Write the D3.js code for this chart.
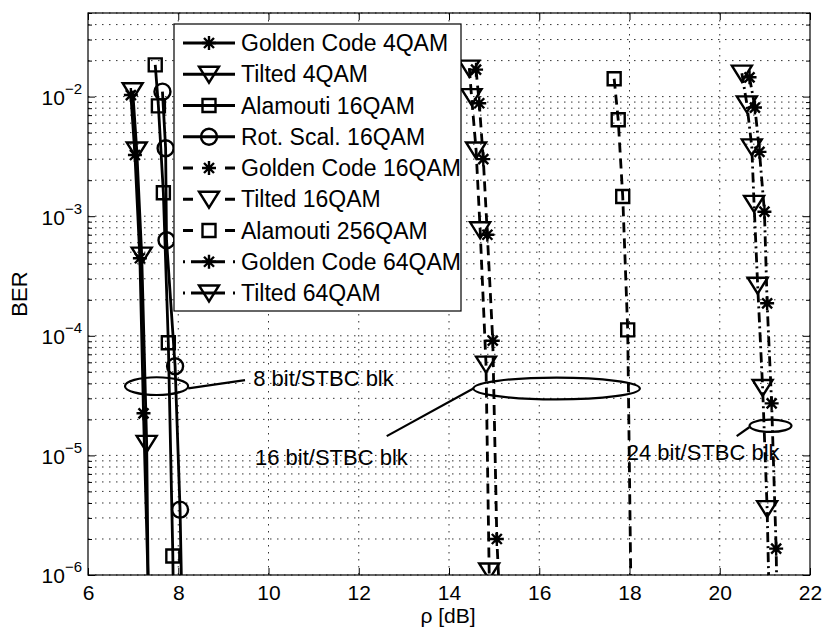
<!DOCTYPE html>
<meta charset="utf-8">

<head>
    <style>
        body { margin: 0; background: #fff; }
        text { font-family: "Liberation Sans", Arial, Helvetica, sans-serif; }
    </style>
    <script src="https://d3js.org/d3.v7.min.js"></script>
</head>

<body>
    <div id="chart"></div>

    <script>
        // BER curves: x = rho [dB], y = BER (last point of each lies below the axis)
        const gc4X = [6.95, 7.04, 7.15, 7.23, 7.40];
        const gc4Y = [1.03e-2, 3.25e-3, 4.45e-4, 2.25e-5, 1e-7];
        const ti4X = [6.99, 7.08, 7.19, 7.30, 7.36];
        const ti4Y = [1.12e-2, 3.58e-3, 4.73e-4, 1.26e-5, 1e-7];
        const al16X = [7.49, 7.56, 7.67, 7.78, 7.88, 7.92];
        const al16Y = [1.84e-2, 8.36e-3, 1.57e-3, 8.75e-5, 1.44e-6, 1e-7];
        const rs16X = [7.65, 7.72, 7.74, 7.93, 8.04, 8.12];
        const rs16Y = [1.10e-2, 3.70e-3, 6.30e-4, 5.57e-5, 3.52e-6, 1e-7];
        const gc16X = [14.60, 14.67, 14.76, 14.85, 14.97, 15.06, 15.22];
        const gc16Y = [1.68e-2, 8.8e-3, 3.0e-3, 7.0e-4, 9.1e-5, 2.0e-6, 1e-7];
        const ti16X = [14.45, 14.50, 14.60, 14.69, 14.82, 14.89, 14.95];
        const ti16Y = [1.73e-2, 1.0e-2, 3.58e-3, 7.7e-4, 5.8e-5, 1.08e-6, 1e-7];
        const al256X = [17.66, 17.75, 17.85, 17.96, 18.06];
        const al256Y = [1.41e-2, 6.4e-3, 1.46e-3, 1.12e-4, 1e-7];
        const gc64X = [20.66, 20.78, 20.88, 20.99, 21.05, 21.15, 21.25, 21.30];
        const gc64Y = [1.45e-2, 8.1e-3, 3.45e-3, 1.09e-3, 1.87e-4, 2.72e-5, 1.66e-6, 1e-7];
        const ti64X = [20.49, 20.60, 20.71, 20.76, 20.84, 20.95, 21.05, 21.14];
        const ti64Y = [1.57e-2, 8.7e-3, 3.8e-3, 1.28e-3, 2.65e-4, 3.7e-5, 3.59e-6, 1e-7];

        const xTicks = [6, 8, 10, 12, 14, 16, 18, 20, 22];
        const yMajor = [1e-6, 1e-5, 1e-4, 1e-3, 1e-2];

        // annotations (data coordinates)
        const ellX = [[6.82, 8.22], [14.54, 18.23], [20.66, 21.59]];
        const ellY = [[3.2e-5, 4.5e-5], [2.94e-5, 4.47e-5], [1.57e-5, 1.99e-5]];
        const ptrX = [[8.22, 9.48], [14.54, 12.62], [20.655, 20.375]];
        const ptrY = [[3.63e-5, 4.26e-5], [3.63e-5, 1.45e-5], [1.72e-5, 1.45e-5]];
        const noteText = ["8 bit/STBC blk", "16 bit/STBC blk", "24 bit/STBC blk"];
        const noteX = [9.66, 9.70, 17.94];
        const noteY = [3.8e-5, 8.3e-6, 9.1e-6];

        const series = [
            { name: "Golden Code 4QAM", x: gc4X, y: gc4Y, marker: "star", style: "solid" },
            { name: "Tilted 4QAM", x: ti4X, y: ti4Y, marker: "tri", style: "solid" },
            { name: "Alamouti 16QAM", x: al16X, y: al16Y, marker: "square", style: "solid" },
            { name: "Rot. Scal. 16QAM", x: rs16X, y: rs16Y, marker: "circle", style: "solid" },
            { name: "Golden Code 16QAM", x: gc16X, y: gc16Y, marker: "star", style: "dash" },
            { name: "Tilted 16QAM", x: ti16X, y: ti16Y, marker: "tri", style: "dash" },
            { name: "Alamouti 256QAM", x: al256X, y: al256Y, marker: "square", style: "dash" },
            { name: "Golden Code 64QAM", x: gc64X, y: gc64Y, marker: "star", style: "dashdot" },
            { name: "Tilted 64QAM", x: ti64X, y: ti64Y, marker: "tri", style: "dashdot" }
        ];

        const markerPath = {
            star: "M-7,0H7M0,-7V7M-5,-5L5,5M-5,5L5,-5",
            tri: "M-10,-7.5L10,-7.5L0,8.5Z",
            square: "M-6.5,-6.5H6.5V6.5H-6.5Z",
            circle: "M8,0A8,8 0 1,1 -8,0A8,8 0 1,1 8,0Z"
        };
        const dashFor = { solid: null, dash: "10,6", dashdot: "10,4,2,4" };
        const legendDash = { solid: null, dash: "10,32", dashdot: "2,6,34,8,2,100" };

        const width = 824, height = 629;
        const pLeft = 88, pTop = 13, pRight = 810, pBottom = 575;
        const font = "'Liberation Sans', Arial, Helvetica, sans-serif";

        const svg = d3.select("#chart")
            .append("svg")
            .attr("width", width)
            .attr("height", height);

        svg.append("rect").attr("width", width).attr("height", height).attr("fill", "#fff");

        const x = d3.scaleLinear().domain([6, 22]).range([pLeft, pRight]);
        const y = d3.scaleLog().domain([1e-6, 5e-2]).range([pBottom, pTop]);

        svg.append("defs").append("clipPath").attr("id", "plot")
            .append("rect")
            .attr("x", pLeft).attr("y", pTop)
            .attr("width", pRight - pLeft).attr("height", pBottom - pTop);

        // dotted grid
        const grid = svg.append("g")
            .attr("stroke", "#333")
            .attr("stroke-width", 1)
            .attr("stroke-dasharray", "1.5,5.5");
        grid.selectAll(".gy")
            .data(y.ticks())
            .join("line")
            .attr("x1", pLeft).attr("x2", pRight)
            .attr("y1", d => y(d)).attr("y2", d => y(d));
        grid.selectAll(".gx")
            .data(xTicks.slice(1, -1))
            .join("line")
            .attr("y1", pTop).attr("y2", pBottom)
            .attr("x1", d => x(d)).attr("x2", d => x(d));

        // axes
        const yMinor = y.ticks().filter(d => !yMajor.some(m => Math.abs(m - d) / m < 1e-6));

        function styleAxis(g) {
            g.attr("font-family", font).attr("font-size", 21);
            g.select(".domain").remove();
        }

        svg.append("g")
            .attr("transform", "translate(0," + pBottom + ")")
            .call(d3.axisBottom(x).tickValues(xTicks).tickSize(-7).tickPadding(10))
            .call(styleAxis);
        svg.append("g")
            .attr("transform", "translate(0," + pTop + ")")
            .call(d3.axisTop(x).tickValues(xTicks).tickSize(-7).tickFormat(""))
            .call(styleAxis);

        const yl = svg.append("g")
            .attr("transform", "translate(" + pLeft + ",0)")
            .call(d3.axisLeft(y).tickValues(yMajor).tickSize(-7).tickPadding(6).tickFormat(""))
            .call(styleAxis);
        yl.selectAll(".tick text")
            .attr("dy", "0.38em")
            .each(function (d) {
                const t = d3.select(this);
                t.append("tspan").text("10");
                t.append("tspan").attr("dy", -11).attr("font-size", 15)
                    .text("\u2212" + Math.round(-Math.log10(d)));
            });
        svg.append("g")
            .attr("transform", "translate(" + pLeft + ",0)")
            .call(d3.axisLeft(y).tickValues(yMinor).tickSize(-4).tickFormat(""))
            .call(styleAxis);
        svg.append("g")
            .attr("transform", "translate(" + pRight + ",0)")
            .call(d3.axisRight(y).tickValues(yMajor).tickSize(-7).tickFormat(""))
            .call(styleAxis);
        svg.append("g")
            .attr("transform", "translate(" + pRight + ",0)")
            .call(d3.axisRight(y).tickValues(yMinor).tickSize(-4).tickFormat(""))
            .call(styleAxis);

        // curves
        const line = d3.line().x(d => x(d[0])).y(d => y(d[1]));
        const plot = svg.append("g").attr("clip-path", "url(#plot)");

        series.forEach(s => {
            const pts = s.x.map((v, i) => [v, s.y[i]]);
            plot.append("path")
                .datum(pts)
                .attr("d", line)
                .attr("fill", "none")
                .attr("stroke", "#000")
                .attr("stroke-width", 2.8)
                .attr("stroke-dasharray", dashFor[s.style]);
            plot.selectAll(null)
                .data(pts)
                .join("path")
                .attr("d", markerPath[s.marker])
                .attr("transform", d => "translate(" + x(d[0]) + "," + y(d[1]) + ")")
                .attr("fill", "none")
                .attr("stroke", "#000")
                .attr("stroke-width", 2.4);
        });

        // plot box
        svg.append("rect")
            .attr("x", pLeft).attr("y", pTop)
            .attr("width", pRight - pLeft).attr("height", pBottom - pTop)
            .attr("fill", "none").attr("stroke", "#000").attr("stroke-width", 1.2);

        // legend
        const lg = svg.append("g");
        lg.append("rect")
            .attr("x", 174).attr("y", 24).attr("width", 287).attr("height", 287)
            .attr("fill", "#fff").attr("stroke", "#000").attr("stroke-width", 1.2);
        series.forEach((s, i) => {
            const ry = 43 + i * 31.25;
            lg.append("line")
                .attr("x1", 183).attr("x2", 235).attr("y1", ry).attr("y2", ry)
                .attr("stroke", "#000").attr("stroke-width", 2.8)
                .attr("stroke-dasharray", legendDash[s.style]);
            lg.append("path")
                .attr("d", markerPath[s.marker])
                .attr("transform", "translate(209," + ry + ")")
                .attr("fill", "none").attr("stroke", "#000").attr("stroke-width", 2.4);
            lg.append("text")
                .attr("x", 241).attr("y", ry + 8)
                .attr("font-size", 23)
                .text(s.name);
        });

        // annotations
        const ann = svg.append("g").attr("stroke", "#000").attr("stroke-width", 2.2).attr("fill", "none");
        ellX.forEach((ex, i) => {
            const ey = ellY[i];
            ann.append("ellipse")
                .attr("cx", (x(ex[0]) + x(ex[1])) / 2)
                .attr("cy", (y(ey[0]) + y(ey[1])) / 2)
                .attr("rx", Math.abs(x(ex[1]) - x(ex[0])) / 2)
                .attr("ry", Math.abs(y(ey[1]) - y(ey[0])) / 2);
            ann.append("line")
                .attr("x1", x(ptrX[i][0])).attr("y1", y(ptrY[i][0]))
                .attr("x2", x(ptrX[i][1])).attr("y2", y(ptrY[i][1]));
        });
        svg.selectAll(".note")
            .data(noteText)
            .join("text")
            .attr("x", (d, i) => x(noteX[i]))
            .attr("y", (d, i) => y(noteY[i]))
            .attr("font-size", 22)
            .text(d => d);

        // axis titles
        svg.append("text")
            .attr("transform", "translate(27,294) rotate(-90)")
            .attr("text-anchor", "middle")
            .attr("font-size", 22)
            .text("BER");
        svg.append("text")
            .attr("x", 448).attr("y", 623)
            .attr("text-anchor", "middle")
            .attr("font-size", 21)
            .text("\u03c1 [dB]");
    </script>
</body>
